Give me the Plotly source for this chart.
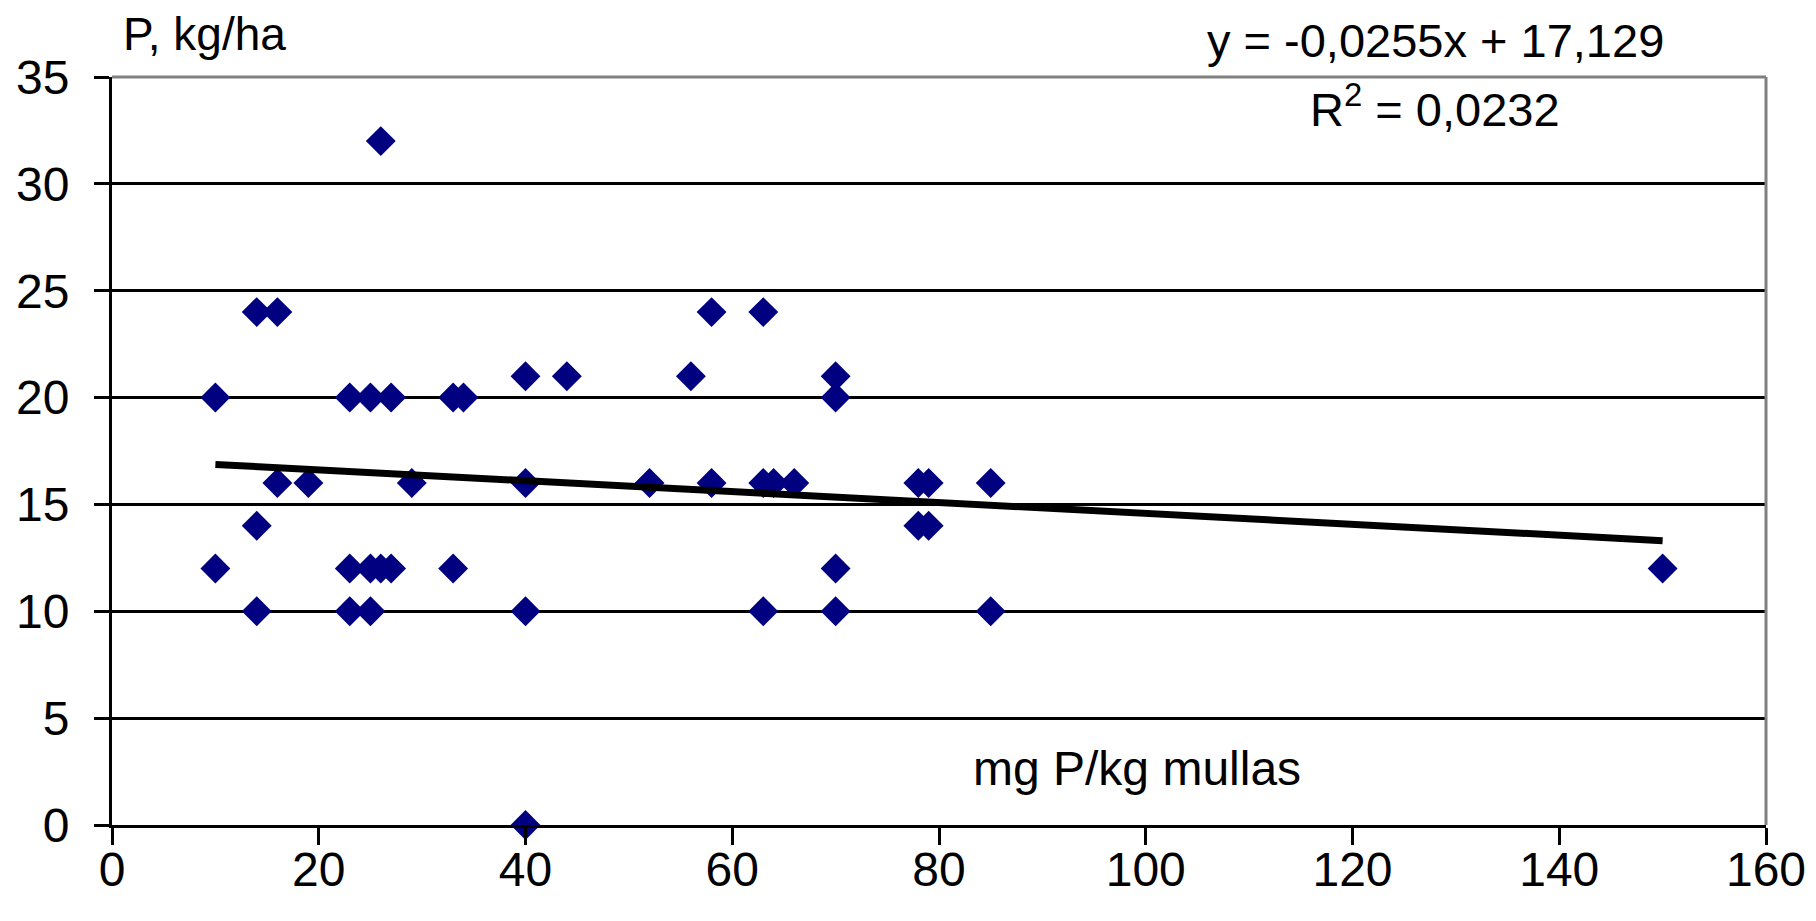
import plotly.graph_objects as go

# Data
soil_p = [10, 10, 14, 16, 14, 14, 16, 19, 23, 25, 27, 23, 25, 26, 27, 23, 25, 26,
          29, 33, 34, 33, 40, 44, 40, 40, 40, 52, 56, 58, 58, 63, 63, 64, 66, 63,
          70, 70, 70, 70, 78, 79, 78, 79, 85, 85, 150]
p_kg_ha = [20, 12, 24, 24, 14, 10, 16, 16, 20, 20, 20, 12, 12, 12, 12, 10, 10, 32,
           16, 20, 20, 12, 21, 21, 16, 10, 0, 16, 21, 24, 16, 24, 16, 16, 16, 10,
           21, 20, 12, 10, 16, 16, 14, 14, 16, 10, 12]

trend_slope = -0.0255
trend_intercept = 17.129
equation_text = "y = -0,0255x + 17,129"
r2_text = "R<sup>2</sup> = 0,0232"

x_ticks = [0, 20, 40, 60, 80, 100, 120, 140, 160]
y_ticks = [0, 5, 10, 15, 20, 25, 30, 35]
y_title = "P, kg/ha"
x_title = "mg P/kg mullas"

FONT = "Liberation Sans, Arial, sans-serif"
X_RANGE = [0, 160]

trend_x = [min(soil_p), max(soil_p)]
trend_y = [trend_slope * v + trend_intercept for v in trend_x]

fig = go.Figure()
fig.add_trace(go.Scatter(
    x=soil_p, y=p_kg_ha, mode="markers",
    marker=dict(symbol="diamond", size=23, color="#000080", line=dict(width=0)),
    cliponaxis=False, showlegend=False,
))
# trend line drawn on the label axis (same range as the main x axis)
fig.add_trace(go.Scatter(
    x=trend_x, y=trend_y, mode="lines", xaxis="x2", yaxis="y",
    line=dict(color="black", width=7),
    showlegend=False,
))

# page body has an 8px margin: figure is 16px smaller than the window
fig.update_layout(
    width=1800, height=905,
    margin=dict(l=104, r=42, t=69, b=88),
    paper_bgcolor="white", plot_bgcolor="white",
    font=dict(family=FONT, size=48, color="black"),
    xaxis=dict(
        range=X_RANGE, tickvals=x_ticks, showgrid=False, zeroline=False,
        automargin=False, showticklabels=False,
        showline=True, linecolor="black", linewidth=3,
        ticks="outside", ticklen=17, tickwidth=3, tickcolor="black",
    ),
    xaxis2=dict(
        overlaying="x", anchor="y", side="bottom",
        range=X_RANGE, tickvals=x_ticks, showgrid=False, zeroline=False,
        automargin=False, showline=False, ticks="",
        ticklabelstandoff=12,
        tickfont=dict(family=FONT, size=48, color="black"),
    ),
    yaxis=dict(
        range=[0, 35], tickvals=y_ticks, showgrid=True, gridcolor="black",
        gridwidth=3, zeroline=False, automargin=False,
        showline=True, linecolor="black", linewidth=3,
        ticks="outside", ticklen=15, tickwidth=3, tickcolor="black",
        ticklabelstandoff=15,
        tickfont=dict(family=FONT, size=48, color="black"),
    ),
    shapes=[
        dict(type="line", xref="paper", yref="paper", x0=0, x1=1, y0=1, y1=1,
             line=dict(color="#808080", width=3)),
        dict(type="line", xref="paper", yref="paper", x0=1, x1=1, y0=0, y1=1,
             line=dict(color="#808080", width=3)),
    ],
    annotations=[
        dict(text=y_title, xref="paper", yref="paper", x=0.006, y=1.0, yshift=43,
             xanchor="left", yanchor="middle", showarrow=False, borderpad=0,
             font=dict(family=FONT, size=46, color="black")),
        dict(text=equation_text, xref="paper", yref="paper", x=0.80, y=1.0, yshift=37,
             xanchor="center", yanchor="middle", showarrow=False, borderpad=0,
             font=dict(family=FONT, size=47, color="black")),
        dict(text=r2_text, xref="paper", yref="paper", x=0.80, y=1.0, yshift=-29,
             xanchor="center", yanchor="middle", showarrow=False,
             font=dict(family=FONT, size=47, color="black")),
        dict(text=x_title, xref="paper", yref="paper", x=0.62, y=0.075,
             xanchor="center", yanchor="middle", showarrow=False,
             font=dict(family=FONT, size=48, color="black")),
    ],
)

fig.write_html("out.html")
